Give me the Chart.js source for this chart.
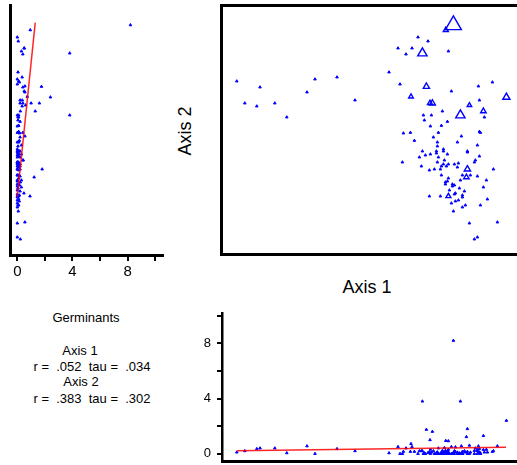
<!DOCTYPE html>
<html>
<head>
<meta charset="utf-8">
<title>Germinants</title>
<script src="https://cdn.jsdelivr.net/npm/chart.js@4.4.0/dist/chart.umd.min.js"></script>
<style>
  html, body { margin: 0; padding: 0; background: #fff; overflow: hidden; width: 517px; height: 465px; }
  body { position: relative; font-family: "Liberation Sans", Arial, sans-serif; color: #000; }
  canvas { position: absolute; }
  #mainBox { position: absolute; left: 220px; top: 4px; width: 300px; height: 246px; border: 3px solid #000; border-right: none; }
  #mainBox canvas { position: static; display: block; }
  .lbl { position: absolute; white-space: pre; transform: translate(-50%, -50%); line-height: 1; }
</style>
</head>
<body>
<div id="mainBox"><canvas id="main" width="300" height="246"></canvas></div>
<canvas id="left" width="175" height="285" style="left:0;top:0"></canvas>
<canvas id="bottom" width="340" height="160" style="left:190px;top:305px"></canvas>

<div class="lbl" style="left:185px;top:131px;font-size:18px;transform:translate(-50%,-50%) rotate(-90deg)">Axis 2</div>
<div class="lbl" style="left:367px;top:287px;font-size:18px">Axis 1</div>

<div class="lbl" style="left:86px;top:317px;font-size:13px">Germinants</div>
<div class="lbl" style="left:80px;top:350px;font-size:13px">Axis 1</div>
<div class="lbl" style="left:92px;top:366px;font-size:13px">r =  .052  tau =  .034</div>
<div class="lbl" style="left:81px;top:381px;font-size:13px">Axis 2</div>
<div class="lbl" style="left:92px;top:398px;font-size:13px">r =  .383  tau =  .302</div>

<script>
// ordination scores of each plot and its germinant count
const axis1 = [
  6.9, 10.9, 16.9, 18.5, 25.9, 31.9, 42.0, 46.0, 57.0, 66.0,
  83.0, 88.5, 87.5, 91.5, 94.5, 97.5, 102.5, 112.7, 115.2, 111.4,
  99.7, 101.7, 94.0, 103.5, 104.7, 123.2, 130.2, 141.7, 118.7, 114.2,
  127.7, 134.7, 128.2, 130.7, 109.7, 100.2, 104.2, 100.7, 112.2, 103.7,
  109.2, 90.2, 93.7, 107.7, 128.2, 128.7, 119.2, 105.2, 95.7, 107.2,
  117.2, 127.2, 107.2, 110.2, 110.2, 99.7, 106.7, 106.7, 122.2, 122.2,
  103.7, 101.2, 112.2, 98.2, 107.7, 128.2, 110.7, 126.2, 125.7, 89.7,
  107.2, 115.7, 117.7, 110.2, 112.7, 109.2, 111.7, 99.2, 117.2, 108.7,
  135.2, 103.2, 105.7, 122.2, 121.7, 119.7, 123.7, 109.2, 127.2, 112.7,
  118.7, 131.7, 111.2, 112.2, 111.2, 114.7, 115.7, 114.7, 130.2, 118.2,
  113.2, 120.7, 116.2, 115.7, 103.2, 108.7, 112.7, 119.7, 119.7, 132.2,
  117.7, 116.2, 114.2, 121.2, 128.7, 119.7, 115.2, 123.2, 137.2, 127.2, 125.7
];
const axis2 = [
  85.9, 74.9, 73.4, 82.9, 74.9, 67.9, 80.4, 86.9, 87.9, 76.4,
  90.4, 84.4, 102.4, 99.4, 102.4, 107.9, 105.9, 100.9, 114.0, 111.5,
  99.9, 83.2, 78.2, 74.9, 74.9, 73.9, 70.9, 77.9, 68.9, 80.9,
  83.4, 85.4, 76.4, 67.9, 70.9, 68.9, 68.9, 66.4, 65.7, 63.4,
  63.7, 59.9, 60.2, 60.2, 60.7, 60.2, 58.4, 57.9, 56.2, 55.4,
  55.4, 53.9, 53.4, 51.9, 50.9, 50.9, 50.9, 49.9, 50.9, 50.4,
  49.4, 48.9, 49.4, 47.9, 47.9, 48.4, 46.4, 46.4, 45.4, 45.4,
  45.4, 44.4, 44.9, 44.4, 44.4, 43.4, 43.4, 43.4, 42.9, 41.9,
  41.9, 41.4, 41.9, 41.9, 37.9, 38.9, 38.9, 38.9, 38.4, 37.4,
  36.4, 36.4, 35.4, 35.9, 34.4, 34.4, 33.9, 33.4, 32.9, 32.4,
  31.4, 30.9, 29.9, 29.4, 28.4, 28.4, 28.4, 28.9, 27.9, 26.9,
  26.4, 25.9, 24.9, 23.9, 23.9, 22.9, 20.9, 14.9, 15.4, 7.9, 6.9
];
const germinants = [
  0.1, 0.2, 0.35, 0.4, 0.4, 0.05, 0.55, 0, 0.35, 0.2,
  0.05, 0, 0.5, 0.4, 0.5, 0, 0.07, 0.3, 8.2, 0.94,
  3.8, 1.75, 0.72, 1.0, 1.6, 0.6, 1.3, 2.4, 3.8, 0.5,
  0.55, 0.15, 0.36, 0.1, 0.22, 0, 0.1, 0.05, 0.2, 0,
  0.1, 0.15, 0.15, 0.4, 0.1, 0, 0.55, 0.2, 0.15, 0.1,
  0, 0.3, 0.05, 0, 0.1, 0.2, 0, 0.05, 0.15, 0,
  0.3, 0, 0.1, 0.2, 0, 0.1, 0.43, 0.4, 0, 0,
  0.1, 0.2, 0, 0, 0.1, 0.05, 0, 0.2, 0.1, 0,
  0.2, 0.1, 0, 1.8, 1.22, 0, 0.1, 0, 0.2, 0.1,
  0, 0.3, 0.22, 0, 0.1, 0, 0.15, 0, 0.29, 0.05,
  0, 0.2, 0.48, 0, 0.1, 0, 0.92, 0.15, 0, 0.1,
  0, 0.14, 0, 0.1, 0.05, 0, 0.07, 0, 0.55, 0, 0.22
];

// germinant axis ticks (only every other one is labelled)
const germTicks = [0, 2, 4, 6, 8, 10];
const germTickLabels = ['0', '', '4', '', '8', ''];

// fitted lines: germinants against axis 1 and against axis 2
const fit1Axis = [6.9, 141.5];
const fit1Germ = [0.22, 0.46];
const fit2Axis = [28.2, 115.2];
const fit2Germ = [0, 1.3];

const BLUE = '#0000ff';
const RED = 'rgba(255,0,0,0.85)';

// symbol size grows with the count; small counts are drawn as solid dots
function symbolRadius(g) {
  return g < 0.6 ? 1.5 : (3.6 + 1.5 * g) / 1.73;
}

const base = {
  responsive: false,
  animation: false,
  events: [],
  plugins: { legend: { display: false }, tooltip: { enabled: false } }
};

function setGermTicks(axis) {
  axis.ticks = germTicks.map(v => ({ value: v }));
}

// joint plot
new Chart(document.getElementById('main'), {
  type: 'scatter',
  data: {
    datasets: [{
      data: axis1.map((x, i) => ({ x: x, y: axis2[i] })),
      pointStyle: 'triangle',
      radius: ctx => symbolRadius(germinants[ctx.dataIndex]),
      backgroundColor: ctx => germinants[ctx.dataIndex] < 0.6 ? BLUE : 'rgba(0,0,0,0)',
      borderColor: BLUE,
      borderWidth: ctx => germinants[ctx.dataIndex] < 0.6 ? 1 : 1.4
    }]
  },
  options: {
    ...base,
    layout: { padding: 0, autoPadding: false },
    scales: {
      x: { type: 'linear', display: false, min: 0, max: 150 },
      y: { type: 'linear', display: false, min: 0, max: 123 }
    }
  }
});

// germinants against axis 2 (left margin)
new Chart(document.getElementById('left'), {
  type: 'scatter',
  data: {
    datasets: [{
      data: fit2Germ.map((g, i) => ({ x: g, y: fit2Axis[i] })),
      showLine: true,
      borderColor: RED,
      borderWidth: 1.5,
      pointRadius: 0
    }, {
      data: germinants.map((g, i) => ({ x: g, y: axis2[i] })),
      pointStyle: 'triangle',
      radius: 1.5,
      backgroundColor: BLUE,
      borderColor: BLUE,
      borderWidth: 1
    }]
  },
  options: {
    ...base,
    layout: { padding: { top: 5, right: 12 }, autoPadding: false },
    scales: {
      x: {
        type: 'linear', min: -0.53, max: 10.56,
        afterBuildTicks: setGermTicks,
        afterFit: s => { s.height = 30; s.paddingLeft = 0; s.paddingRight = 0; },
        grid: { display: true, drawOnChartArea: false, tickLength: 6, lineWidth: 2, color: '#000' },
        border: { display: true, width: 3, color: '#000' },
        ticks: {
          autoSkip: false, maxRotation: 0, padding: 2, color: '#000',
          font: { family: 'Liberation Sans', size: 15 },
          callback: (v, i) => germTickLabels[i]
        }
      },
      y: {
        type: 'linear', min: -1, max: 124,
        afterFit: s => { s.width = 10; s.paddingTop = 0; s.paddingBottom = 0; },
        grid: { display: false },
        border: { display: true, width: 3, color: '#000' },
        ticks: { display: false }
      }
    }
  }
});

// germinants against axis 1 (bottom margin)
new Chart(document.getElementById('bottom'), {
  type: 'scatter',
  data: {
    datasets: [{
      data: fit1Axis.map((x, i) => ({ x: x, y: fit1Germ[i] })),
      showLine: true,
      borderColor: RED,
      borderWidth: 1.5,
      pointRadius: 0
    }, {
      data: axis1.map((x, i) => ({ x: x, y: germinants[i] })),
      pointStyle: 'triangle',
      radius: 1.5,
      backgroundColor: BLUE,
      borderColor: BLUE,
      borderWidth: 1
    }]
  },
  options: {
    ...base,
    layout: { padding: { top: 8 }, autoPadding: false },
    scales: {
      x: {
        type: 'linear', min: -0.5, max: 153.5,
        afterFit: s => { s.height = 4; s.paddingLeft = 0; s.paddingRight = 0; },
        grid: { display: false },
        border: { display: true, width: 3, color: '#000' },
        ticks: { display: false }
      },
      y: {
        type: 'linear', min: -0.53, max: 10.2,
        afterBuildTicks: setGermTicks,
        afterFit: s => { s.width = 32; s.paddingTop = 0; s.paddingBottom = 0; },
        grid: { display: true, drawOnChartArea: false, tickLength: 5, lineWidth: 2, color: '#000' },
        border: { display: true, width: 2.5, color: '#000' },
        ticks: {
          autoSkip: false, padding: 6, color: '#000',
          font: { family: 'Liberation Sans', size: 13 },
          callback: (v, i) => germTickLabels[i]
        }
      }
    }
  }
});
</script>
</body>
</html>
